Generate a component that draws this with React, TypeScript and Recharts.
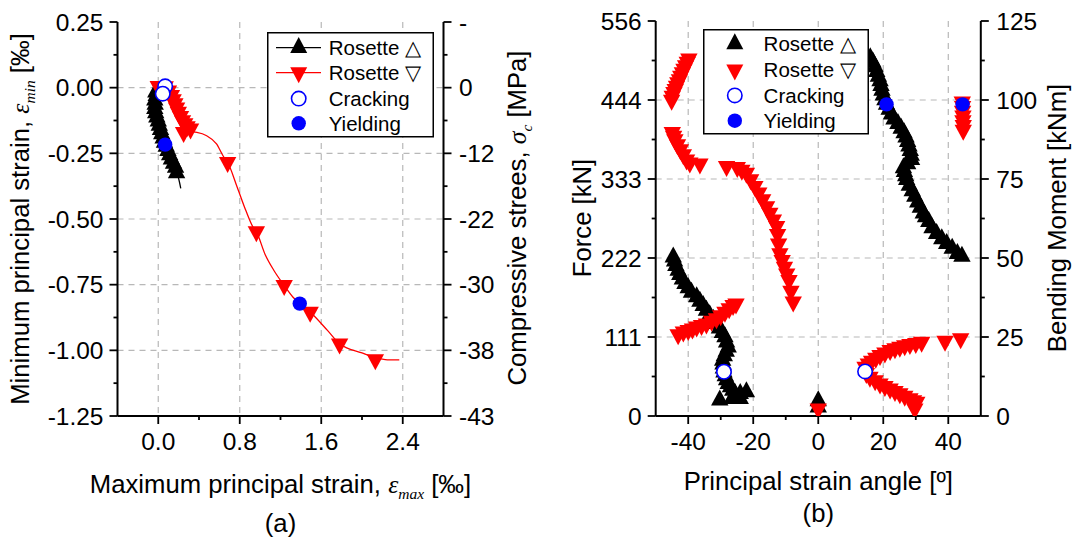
import React from 'react';
import { ScatterChart, Scatter, XAxis, YAxis, CartesianGrid, Legend } from 'recharts';

const FONT = "'Liberation Sans', Arial, Helvetica, sans-serif";
const SERIF = "'Liberation Serif', 'DejaVu Serif', 'Times New Roman', serif";
const RED = '#ff0000';
const BLUE = '#0000ff';

// ---------- Panel (a) data ----------
const aXTicks = [0, 0.4, 0.8, 1.2, 1.6, 2.0, 2.4];
const aXMajors = [0, 0.8, 1.6, 2.4];
const aYTicks = [-1.25, -1.125, -1, -0.875, -0.75, -0.625, -0.5, -0.375, -0.25, -0.125, 0, 0.125, 0.25];
const aYMajors = [-1.25, -1, -0.75, -0.5, -0.25, 0, 0.25];
const aRightLabels = ['-43', '-38', '-30', '-22', '-12', '0', '-'];

const aRosetteUp = [
  { x: -0.024, y: -0.017 }, { x: -0.02, y: -0.03 }, { x: -0.034, y: -0.048 }, { x: -0.03, y: -0.064 },
  { x: -0.034, y: -0.08 }, { x: -0.025, y: -0.096 }, { x: -0.014, y: -0.112 }, { x: 0.0, y: -0.128 },
  { x: 0.01, y: -0.144 }, { x: 0.022, y: -0.16 }, { x: 0.034, y: -0.176 }, { x: 0.048, y: -0.192 },
  { x: 0.061, y: -0.208 }, { x: 0.078, y: -0.224 }, { x: 0.095, y: -0.24 }, { x: 0.112, y: -0.256 },
  { x: 0.129, y: -0.272 }, { x: 0.15, y: -0.288 }, { x: 0.17, y: -0.304 }, { x: 0.18, y: -0.325 },
];
const aRosetteUpCurve = [
  { x: -0.01, y: 0.0 }, { x: -0.03, y: -0.06 }, { x: -0.025, y: -0.11 }, { x: 0.01, y: -0.15 },
  { x: 0.06, y: -0.21 }, { x: 0.12, y: -0.27 }, { x: 0.18, y: -0.32 }, { x: 0.221, y: -0.383 },
];
const aRosetteDown = [
  { x: 0.0, y: 0.005 }, { x: 0.035, y: 0.005 }, { x: 0.068, y: 0.004 }, { x: 0.1, y: -0.012 },
  { x: 0.129, y: -0.029 }, { x: 0.146, y: -0.045 }, { x: 0.163, y: -0.061 }, { x: 0.18, y: -0.077 },
  { x: 0.197, y: -0.093 }, { x: 0.218, y: -0.109 }, { x: 0.238, y: -0.125 }, { x: 0.26, y: -0.137 },
  { x: 0.283, y: -0.148 }, { x: 0.317, y: -0.157 }, { x: 0.249, y: -0.17 },
  { x: 0.681, y: -0.284 }, { x: 0.963, y: -0.548 }, { x: 1.236, y: -0.753 }, { x: 1.491, y: -0.854 },
  { x: 1.78, y: -0.975 }, { x: 2.131, y: -1.035 },
];
const aRosetteDownCurve = [
  { x: 0.02, y: 0.0 }, { x: 0.12, y: -0.04 }, { x: 0.22, y: -0.12 }, { x: 0.29, y: -0.163 },
  { x: 0.35, y: -0.168 }, { x: 0.47, y: -0.182 }, { x: 0.572, y: -0.214 }, { x: 0.64, y: -0.262 },
  { x: 0.681, y: -0.284 }, { x: 0.776, y: -0.38 }, { x: 0.861, y: -0.469 }, { x: 0.929, y: -0.53 },
  { x: 0.963, y: -0.548 }, { x: 1.049, y: -0.635 }, { x: 1.134, y: -0.695 }, { x: 1.236, y: -0.753 },
  { x: 1.321, y: -0.797 }, { x: 1.389, y: -0.822 }, { x: 1.491, y: -0.854 }, { x: 1.661, y: -0.924 },
  { x: 1.78, y: -0.975 }, { x: 2.0, y: -1.01 }, { x: 2.131, y: -1.028 }, { x: 2.25, y: -1.036 },
  { x: 2.366, y: -1.036 },
];
const aCracking = [{ x: 0.068, y: 0.005 }, { x: 0.044, y: -0.023 }];
const aYielding = [{ x: 0.068, y: -0.217 }, { x: 1.389, y: -0.822 }];

// ---------- Panel (b) data ----------
const bXTicks = [-40, -30, -20, -10, 0, 10, 20, 30, 40];
const bXMajors = [-40, -20, 0, 20, 40];
const bYTicks = [0, 12.5, 25, 37.5, 50, 62.5, 75, 87.5, 100, 112.5, 125];
const bYMajors = [0, 25, 50, 75, 100, 125];
const bForceLabels = ['0', '111', '222', '333', '444', '556'];

const bRosetteUp = [
  // left band
  { x: -44.6, y: 50.3 }, { x: -44.2, y: 49.0 }, { x: -43.8, y: 47.6 }, { x: -43.1, y: 46.1 },
  { x: -42.6, y: 44.7 }, { x: -41.8, y: 43.3 }, { x: -41.0, y: 41.9 }, { x: -40.0, y: 40.5 },
  { x: -39.0, y: 39.1 }, { x: -37.4, y: 37.7 }, { x: -36.4, y: 36.3 }, { x: -35.4, y: 34.9 },
  { x: -34.4, y: 33.4 }, { x: -33.4, y: 32.0 }, { x: -32.3, y: 30.6 }, { x: -31.3, y: 29.2 },
  { x: -30.4, y: 27.8 }, { x: -29.5, y: 26.4 }, { x: -28.7, y: 25.0 }, { x: -28.2, y: 23.4 },
  { x: -27.7, y: 21.8 }, { x: -28.3, y: 20.4 }, { x: -28.9, y: 19.0 }, { x: -29.4, y: 17.6 },
  { x: -29.3, y: 16.4 }, { x: -29.2, y: 15.1 }, { x: -29.0, y: 13.9 }, { x: -28.6, y: 12.7 },
  { x: -28.2, y: 11.4 }, { x: -27.7, y: 10.2 }, { x: -27.0, y: 9.2 }, { x: -26.3, y: 8.1 },
  { x: -25.6, y: 7.1 }, { x: -24.0, y: 7.1 }, { x: -22.1, y: 7.6 }, { x: -26.5, y: 5.5 },
  { x: -24.0, y: 5.5 }, { x: -30.3, y: 5.0 },
  // zero
  { x: 0, y: 4.8 }, { x: 0, y: 2.8 },
  // right band
  { x: 16.0, y: 113.3 }, { x: 16.8, y: 112.0 }, { x: 17.5, y: 110.5 }, { x: 18.0, y: 109.0 },
  { x: 18.5, y: 107.5 }, { x: 19.0, y: 106.0 }, { x: 19.3, y: 104.5 }, { x: 19.6, y: 103.0 },
  { x: 20.0, y: 101.5 }, { x: 20.5, y: 100.0 }, { x: 21.0, y: 98.6 }, { x: 21.8, y: 97.0 },
  { x: 22.5, y: 95.5 }, { x: 23.3, y: 93.9 }, { x: 24.5, y: 92.5 }, { x: 25.5, y: 91.0 },
  { x: 26.4, y: 89.6 }, { x: 27.0, y: 88.2 }, { x: 27.5, y: 86.8 }, { x: 27.9, y: 85.4 },
  { x: 28.3, y: 84.0 }, { x: 28.6, y: 82.5 }, { x: 28.7, y: 81.1 }, { x: 27.5, y: 79.8 },
  { x: 26.2, y: 78.5 }, { x: 26.5, y: 77.3 }, { x: 26.9, y: 76.0 }, { x: 27.2, y: 74.8 },
  { x: 28.0, y: 73.0 }, { x: 28.9, y: 71.2 }, { x: 29.7, y: 69.5 }, { x: 30.6, y: 67.7 },
  { x: 31.4, y: 66.0 }, { x: 32.3, y: 64.2 }, { x: 33.0, y: 63.0 }, { x: 34.0, y: 61.5 },
  { x: 35.0, y: 59.5 }, { x: 36.4, y: 57.7 }, { x: 38.0, y: 56.0 }, { x: 39.5, y: 54.5 },
  { x: 41.2, y: 53.0 }, { x: 42.8, y: 51.4 }, { x: 44.2, y: 50.5 },
];
const bRosetteDown = [
  // top-left band
  { x: -39.8, y: 113.0 }, { x: -40.3, y: 112.0 }, { x: -40.8, y: 110.9 }, { x: -41.3, y: 109.8 },
  { x: -41.8, y: 108.7 }, { x: -42.3, y: 107.6 }, { x: -42.7, y: 106.5 }, { x: -43.2, y: 105.5 },
  { x: -43.6, y: 104.4 }, { x: -44.0, y: 103.4 }, { x: -44.4, y: 102.4 }, { x: -44.9, y: 101.2 },
  { x: -45.1, y: 100.0 },
  // middle band
  { x: -44.9, y: 89.8 }, { x: -44.5, y: 88.6 }, { x: -44.1, y: 87.5 }, { x: -43.3, y: 85.9 },
  { x: -42.4, y: 84.3 }, { x: -41.5, y: 82.7 }, { x: -40.5, y: 81.1 }, { x: -39.5, y: 80.1 },
  { x: -36.4, y: 79.8 }, { x: -28.2, y: 79.0 }, { x: -24.9, y: 78.7 }, { x: -23.5, y: 77.8 },
  { x: -22.1, y: 76.9 }, { x: -20.8, y: 74.8 }, { x: -19.5, y: 72.7 }, { x: -18.3, y: 70.6 },
  { x: -17.1, y: 68.5 }, { x: -15.9, y: 66.3 }, { x: -14.9, y: 64.2 }, { x: -13.8, y: 62.1 },
  { x: -12.8, y: 60.0 }, { x: -12.5, y: 57.5 }, { x: -12.2, y: 54.5 }, { x: -11.8, y: 51.4 },
  { x: -11.1, y: 49.3 }, { x: -10.4, y: 47.1 }, { x: -9.7, y: 45.0 }, { x: -9.0, y: 42.9 },
  { x: -8.4, y: 39.5 }, { x: -7.7, y: 36.1 },
  // lower-left V
  { x: -43.1, y: 25.8 }, { x: -41.5, y: 26.6 }, { x: -40.0, y: 27.1 }, { x: -38.7, y: 27.6 },
  { x: -37.4, y: 28.2 }, { x: -35.9, y: 28.7 }, { x: -34.4, y: 29.2 }, { x: -32.8, y: 30.0 },
  { x: -31.3, y: 30.8 }, { x: -30.0, y: 31.8 }, { x: -28.7, y: 32.9 }, { x: -27.4, y: 34.0 },
  { x: -26.2, y: 35.0 }, { x: -25.3, y: 35.5 },
  // zero
  { x: 0, y: 2.3 },
  // right V, upper arm
  { x: 14.4, y: 15.5 }, { x: 15.4, y: 16.5 }, { x: 16.4, y: 17.4 }, { x: 17.7, y: 18.3 },
  { x: 19.0, y: 19.2 }, { x: 20.5, y: 20.0 }, { x: 22.1, y: 20.8 }, { x: 23.6, y: 21.3 },
  { x: 25.1, y: 21.8 }, { x: 26.6, y: 22.3 }, { x: 28.2, y: 22.7 }, { x: 30.0, y: 23.0 },
  { x: 31.8, y: 23.4 }, { x: 39.0, y: 23.7 }, { x: 43.8, y: 24.5 },
  // right V, lower arm
  { x: 14.8, y: 13.5 }, { x: 15.9, y: 12.3 }, { x: 17.5, y: 11.2 }, { x: 19.0, y: 10.2 },
  { x: 20.5, y: 9.4 }, { x: 22.1, y: 8.6 }, { x: 23.6, y: 7.8 }, { x: 25.1, y: 7.1 },
  { x: 26.6, y: 6.3 }, { x: 28.2, y: 5.5 }, { x: 29.3, y: 4.9 }, { x: 30.3, y: 4.4 },
  { x: 29.7, y: 2.3 },
  // right top small band
  { x: 44.3, y: 99.4 }, { x: 44.4, y: 98.0 }, { x: 44.4, y: 96.5 }, { x: 44.5, y: 95.0 },
  { x: 44.5, y: 93.5 }, { x: 44.6, y: 92.0 }, { x: 44.6, y: 90.5 },
];
const bCracking = [{ x: -29.0, y: 14.0 }, { x: 14.4, y: 14.1 }];
const bYielding = [{ x: 21.0, y: 98.6 }, { x: 44.4, y: 98.6 }];

// ---------- helpers ----------
const near = (a: number, b: number) => Math.abs(a - b) < 1e-6;
const HW = 8.7; // triangle half width
const TH = 16; // triangle height

const triUp = (fill: string) => (p: any) => {
  const { cx, cy } = p;
  if (cx == null || cy == null) return <g />;
  return <polygon points={`${cx - HW},${cy + TH / 3} ${cx + HW},${cy + TH / 3} ${cx},${cy - (2 * TH) / 3}`} fill={fill} />;
};
const triDown = (fill: string) => (p: any) => {
  const { cx, cy } = p;
  if (cx == null || cy == null) return <g />;
  return <polygon points={`${cx - HW},${cy - TH / 3} ${cx + HW},${cy - TH / 3} ${cx},${cy + (2 * TH) / 3}`} fill={fill} />;
};
const circleOpen = (p: any) => {
  const { cx, cy } = p;
  if (cx == null || cy == null) return <g />;
  return <circle cx={cx} cy={cy} r={7.2} fill="#fff" stroke={BLUE} strokeWidth={1.6} />;
};
const circleFull = (p: any) => {
  const { cx, cy } = p;
  if (cx == null || cy == null) return <g />;
  return <circle cx={cx} cy={cy} r={7.2} fill={BLUE} />;
};
const noShape = () => <g />;

type Side = 'bottom' | 'top' | 'left' | 'right';
const makeTick = (side: Side, majors: number[], label?: (v: number) => string | null) => (props: any) => {
  const { x, y, payload } = props;
  const v = payload.value;
  const major = majors.some((m) => near(m, v));
  const len = side === 'top' ? (major ? 7 : 4) : major ? 8 : 4;
  const txt = major && label ? label(v) : null;
  let x2 = x, y2 = y, tx = x, ty = y, anchor: any = 'middle';
  if (side === 'bottom') { y2 = y + len; ty = y + 34; }
  if (side === 'top') { y2 = y - len; }
  if (side === 'left') { x2 = x - len; tx = x - 14; ty = y + 8.6; anchor = 'end'; }
  if (side === 'right') { x2 = x + len; tx = x + 15.5; ty = y + 8.6; anchor = 'start'; }
  return (
    <g>
      <line x1={x} y1={y} x2={x2} y2={y2} stroke="#000" strokeWidth={1.8} />
      {txt != null && (
        <text x={tx} y={ty} textAnchor={anchor} fontSize={24.5} fontFamily={FONT} fill="#000">{txt}</text>
      )}
    </g>
  );
};

const Title = (p: any) => {
  const { tx, ty, rot, children } = p;
  return (
    <text x={tx} y={ty} transform={rot ? `rotate(-90 ${tx} ${ty})` : undefined} textAnchor="middle"
      fontSize={25.7} fontFamily={FONT} fill="#000">{children}</text>
  );
};
const eps = (sub: string) => [
  <tspan key="e" fontFamily={SERIF} fontStyle="italic">ε</tspan>,
  <tspan key="s" fontFamily={SERIF} fontStyle="italic" fontSize={15.5} dy={6}>{sub}</tspan>,
  <tspan key="r" dy={-6}> [‰]</tspan>,
];

const axisLine = { stroke: '#000', strokeWidth: 2 };
const gridStyle = { stroke: '#b8b8b8', strokeDasharray: '6 5', strokeWidth: 1.2 };

const LegendA = () => (
  <svg width={168} height={106} style={{ display: 'block' }}>
    <rect x={0.75} y={0.75} width={165.5} height={104} fill="#fff" stroke="#000" strokeWidth={1.5} />
    <line x1={9} y1={15.6} x2={54} y2={15.6} stroke="#000" strokeWidth={1.3} />
    <polygon points={`${23.2},${21} ${40.2},${21} ${31.7},${5}`} fill="#000" />
    <line x1={9} y1={40.6} x2={54} y2={40.6} stroke={RED} strokeWidth={1.3} />
    <polygon points={`${23.2},${35.2} ${40.2},${35.2} ${31.7},${51.2}`} fill={RED} />
    <circle cx={31.7} cy={66.6} r={7.2} fill="#fff" stroke={BLUE} strokeWidth={1.6} />
    <circle cx={31.7} cy={91.3} r={7.2} fill={BLUE} />
    <g fontFamily={FONT} fontSize={20.5} fill="#000">
      <text x={61.7} y={23}>Rosette △</text>
      <text x={61.7} y={48}>Rosette ▽</text>
      <text x={61.7} y={74}>Cracking</text>
      <text x={61.7} y={98.7}>Yielding</text>
    </g>
  </svg>
);

const LegendB = () => (
  <svg width={167} height={106} style={{ display: 'block' }}>
    <rect x={0.75} y={0.75} width={164.5} height={104} fill="#fff" stroke="#000" strokeWidth={1.5} />
    <polygon points={`${23.3},${20.3} ${40.3},${20.3} ${31.8},${4.3}`} fill="#000" />
    <polygon points={`${23.3},${35.4} ${40.3},${35.4} ${31.8},${51.4}`} fill={RED} />
    <circle cx={31.8} cy={66.4} r={7.2} fill="#fff" stroke={BLUE} strokeWidth={1.6} />
    <circle cx={31.8} cy={91.7} r={7.2} fill={BLUE} />
    <g fontFamily={FONT} fontSize={20.5} fill="#000">
      <text x={60.6} y={22.4}>Rosette △</text>
      <text x={60.6} y={48.1}>Rosette ▽</text>
      <text x={60.6} y={73.8}>Cracking</text>
      <text x={60.6} y={99.1}>Yielding</text>
    </g>
  </svg>
);

const aLeftFmt = (v: number) => v.toFixed(2);
const aRightFmt = (v: number) => {
  const i = aYMajors.findIndex((m) => near(m, v));
  return i >= 0 ? aRightLabels[i] : null;
};
const bLeftFmt = (v: number) => {
  const i = bYMajors.findIndex((m) => near(m, v));
  return i >= 0 ? bForceLabels[i] : null;
};

function PanelA() {
  return (
    <ScatterChart width={540} height={543} margin={{ top: 22, right: 0, bottom: 0, left: 0 }}>
      <CartesianGrid xAxisId="b" yAxisId="l" horizontalValues={[-1, -0.75, -0.5, -0.25, 0]}
        verticalValues={[0, 0.8, 1.6, 2.4]} {...gridStyle} />
      <XAxis xAxisId="b" type="number" dataKey="x" domain={[-0.4, 2.8]} ticks={aXTicks} interval={0}
        allowDataOverflow height={127} tickSize={0} tickMargin={0} tickLine={false} axisLine={axisLine}
        tick={makeTick('bottom', aXMajors, (v) => v.toFixed(1))}
        label={<g><Title tx={280.5} ty={492.5}>Maximum principal strain, {eps('max')}</Title>
          <Title tx={280.5} ty={532}>(a)</Title></g>} />
      <XAxis xAxisId="t" orientation="top" type="number" dataKey="x" domain={[-0.4, 2.8]} ticks={aXTicks}
        interval={0} allowDataOverflow height={0} tickSize={0} tickMargin={0} tickLine={false} axisLine={axisLine}
        tick={makeTick('top', aXMajors)} />
      <YAxis yAxisId="l" type="number" dataKey="y" domain={[-1.25, 0.25]} ticks={aYTicks} interval={0}
        allowDataOverflow width={117.5} tickSize={0} tickMargin={0} tickLine={false} axisLine={axisLine}
        tick={makeTick('left', aYMajors, aLeftFmt)}
        label={<Title tx={29} ty={219} rot>Minimum principal strain, {eps('min')}</Title>} />
      <YAxis yAxisId="r" orientation="right" type="number" dataKey="y" domain={[-1.25, 0.25]} ticks={aYTicks}
        interval={0} allowDataOverflow width={96.5} tickSize={0} tickMargin={0} tickLine={false} axisLine={axisLine}
        tick={makeTick('right', aYMajors, aRightFmt)}
        label={<Title tx={526} ty={218} rot>Compressive strees, <tspan fontFamily={SERIF} fontStyle="italic">σ</tspan>
          <tspan fontFamily={SERIF} fontStyle="italic" fontSize={15.5} dy={6}>c</tspan><tspan dy={-6}> [MPa]</tspan></Title>} />
      <Scatter xAxisId="b" yAxisId="l" name="upCurve" data={aRosetteUpCurve} shape={noShape}
        line={{ stroke: '#000', strokeWidth: 1.3 }} lineJointType="monotoneY" isAnimationActive={false} />
      <Scatter xAxisId="b" yAxisId="l" name="Rosette △" data={aRosetteUp} shape={triUp('#000')} isAnimationActive={false} />
      <Scatter xAxisId="b" yAxisId="l" name="downCurve" data={aRosetteDownCurve} shape={noShape}
        line={{ stroke: RED, strokeWidth: 1.3 }} lineJointType="monotoneX" isAnimationActive={false} />
      <Scatter xAxisId="b" yAxisId="l" name="Rosette ▽" data={aRosetteDown} shape={triDown(RED)} isAnimationActive={false} />
      <Scatter xAxisId="b" yAxisId="l" name="Cracking" data={aCracking} shape={circleOpen} isAnimationActive={false} />
      <Scatter xAxisId="b" yAxisId="l" name="Yielding" data={aYielding} shape={circleFull} isAnimationActive={false} />
      <Legend layout="vertical" align="center" verticalAlign="middle" content={LegendA}
        wrapperStyle={{ left: 266.6, top: 32.2, width: 168, height: 106 }} />
    </ScatterChart>
  );
}

function PanelB() {
  return (
    <ScatterChart width={536} height={543} margin={{ top: 21, right: 0, bottom: 0, left: 0 }}>
      <CartesianGrid xAxisId="b" yAxisId="l" horizontalValues={[25, 50, 75, 100]}
        verticalValues={[-40, -20, 0, 20, 40]} {...gridStyle} />
      <XAxis xAxisId="b" type="number" dataKey="x" domain={[-50, 50]} ticks={bXTicks} interval={0}
        allowDataOverflow height={127} tickSize={0} tickMargin={0} tickLine={false} axisLine={axisLine}
        tick={makeTick('bottom', bXMajors, (v) => String(v))}
        label={<g><Title tx={278.3} ty={490}>Principal strain angle [º]</Title>
          <Title tx={278.3} ty={521.5}>(b)</Title></g>} />
      <XAxis xAxisId="t" orientation="top" type="number" dataKey="x" domain={[-50, 50]} ticks={bXTicks}
        interval={0} allowDataOverflow height={0} tickSize={0} tickMargin={0} tickLine={false} axisLine={axisLine}
        tick={makeTick('top', bXMajors)} />
      <YAxis yAxisId="l" type="number" dataKey="y" domain={[0, 125]} ticks={bYTicks} interval={0}
        allowDataOverflow width={115.7} tickSize={0} tickMargin={0} tickLine={false} axisLine={axisLine}
        tick={makeTick('left', bYMajors, bLeftFmt)}
        label={<Title tx={51} ty={218} rot>Force [kN]</Title>} />
      <YAxis yAxisId="r" orientation="right" type="number" dataKey="y" domain={[0, 125]} ticks={bYTicks}
        interval={0} allowDataOverflow width={95.2} tickSize={0} tickMargin={0} tickLine={false} axisLine={axisLine}
        tick={makeTick('right', bYMajors, (v) => String(v))}
        label={<Title tx={525.7} ty={218} rot>Bending Moment [kNm]</Title>} />
      <Scatter xAxisId="b" yAxisId="l" name="Rosette △" data={bRosetteUp} shape={triUp('#000')} isAnimationActive={false} />
      <Scatter xAxisId="b" yAxisId="l" name="Rosette ▽" data={bRosetteDown} shape={triDown(RED)} isAnimationActive={false} />
      <Scatter xAxisId="b" yAxisId="l" name="Cracking" data={bCracking} shape={circleOpen} isAnimationActive={false} />
      <Scatter xAxisId="b" yAxisId="l" name="Yielding" data={bYielding} shape={circleFull} isAnimationActive={false} />
      <Legend layout="vertical" align="center" verticalAlign="middle" content={LegendB}
        wrapperStyle={{ left: 162.7, top: 29, width: 167, height: 106 }} />
    </ScatterChart>
  );
}

export default function App() {
  return (
    <div style={{ position: 'absolute', left: 0, top: 0, width: 1076, height: 543, background: '#fff', overflow: 'hidden' }}>
      <div style={{ position: 'absolute', left: 0, top: 0 }}>
        <PanelA />
      </div>
      <div style={{ position: 'absolute', left: 540, top: 0 }}>
        <PanelB />
      </div>
    </div>
  );
}
